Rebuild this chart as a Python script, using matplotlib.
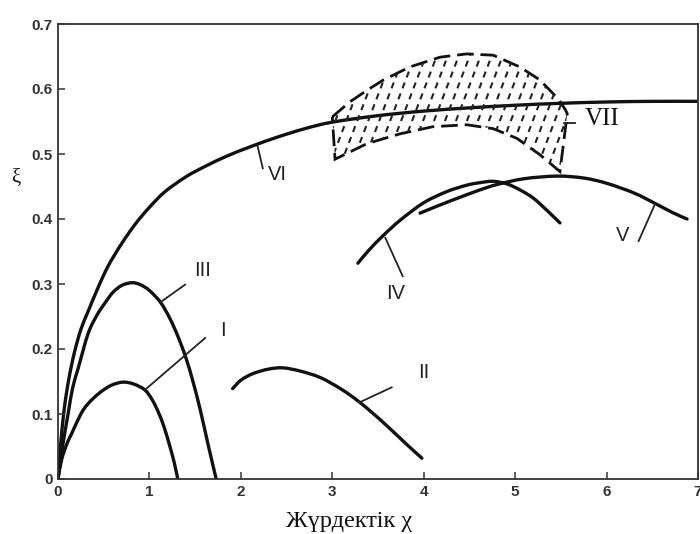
import numpy as np
import matplotlib
matplotlib.use('Agg')
from matplotlib import pyplot as plt
from matplotlib.patches import Polygon, PathPatch
from matplotlib.path import Path

plt.close('all')

#################
# curve data    #
#################
# I
x_1 = [0, 0.04, 0.10, 0.15, 0.25, 0.33, 0.45, 0.58, 0.71, 0.83, 0.95, 1.03, 1.10, 1.16, 1.22, 1.27, 1.31]
y_1 = [0, 0.030, 0.055, 0.070, 0.100, 0.116, 0.132, 0.144, 0.149, 0.146, 0.137, 0.122, 0.102, 0.080, 0.052, 0.026, 0]

# II
x_2 = [1.91, 2.00, 2.13, 2.30, 2.46, 2.65, 2.87, 3.10, 3.30, 3.55, 3.80, 3.98]
y_2 = [0.139, 0.152, 0.162, 0.169, 0.171, 0.166, 0.156, 0.138, 0.118, 0.088, 0.055, 0.032]

# III
x_3 = [0, 0.05, 0.11, 0.16, 0.22, 0.33, 0.43, 0.51, 0.60, 0.70, 0.81, 0.90, 1.00, 1.12, 1.22, 1.31, 1.40, 1.48, 1.56, 1.64, 1.73]
y_3 = [0, 0.050, 0.100, 0.140, 0.170, 0.224, 0.253, 0.270, 0.287, 0.298, 0.302, 0.299, 0.290, 0.272, 0.248, 0.220, 0.186, 0.148, 0.104, 0.054, 0]

# IV
x_4 = [3.28, 3.40, 3.56, 3.75, 4.00, 4.25, 4.47, 4.62, 4.76, 4.91, 5.05, 5.20, 5.35, 5.49]
y_4 = [0.332, 0.352, 0.375, 0.399, 0.425, 0.442, 0.452, 0.456, 0.458, 0.454, 0.445, 0.432, 0.413, 0.394]

# V
x_5 = [3.96, 4.15, 4.37, 4.60, 4.80, 5.10, 5.46, 5.75, 6.00, 6.30, 6.53, 6.72, 6.88]
y_5 = [0.409, 0.420, 0.432, 0.444, 0.453, 0.462, 0.466, 0.463, 0.455, 0.440, 0.424, 0.410, 0.400]

# VI
x_6 = [0, 0.03, 0.07, 0.12, 0.18, 0.25, 0.33, 0.44, 0.55, 0.70, 0.85, 1.00, 1.17, 1.40, 1.61, 1.85,
       2.12, 2.40, 2.70, 3.00, 3.50, 4.00, 4.50, 5.00, 5.50, 6.00, 6.50, 7.00]
y_6 = [0, 0.055, 0.110, 0.155, 0.195, 0.230, 0.258, 0.295, 0.328, 0.363, 0.393, 0.418, 0.442, 0.465, 0.481, 0.497,
       0.512, 0.526, 0.539, 0.549, 0.559, 0.566, 0.571, 0.575, 0.578, 0.580, 0.581, 0.581]

# VII region (upper edge left->right, lower edge right->left)
x_7_up = [3.00, 3.19, 3.38, 3.56, 3.85, 4.18, 4.47, 4.76, 5.05, 5.27, 5.47, 5.55, 5.57]
y_7_up = [0.557, 0.580, 0.598, 0.614, 0.634, 0.649, 0.654, 0.652, 0.634, 0.614, 0.585, 0.568, 0.562]
x_7_lo = [5.49, 5.27, 5.02, 4.76, 4.47, 4.10, 3.74, 3.38, 3.03]
y_7_lo = [0.473, 0.499, 0.524, 0.539, 0.545, 0.542, 0.531, 0.516, 0.492]

# labels: text, label position, leader line start/end
labels = ['I', 'II', 'III', 'IV', 'V', 'VI', 'VII']
label_x = [1.80, 4.00, 1.58, 3.69, 6.17, 2.40, 5.95]
label_y = [0.228, 0.164, 0.320, 0.286, 0.374, 0.469, 0.554]
lead_x0 = [0.95, 3.30, 1.12, 3.58, 6.53, 2.18, 5.53]
lead_y0 = [0.137, 0.118, 0.272, 0.371, 0.423, 0.514, 0.547]
lead_x1 = [1.61, 3.65, 1.39, 3.77, 6.35, 2.24, 5.65]
lead_y1 = [0.217, 0.141, 0.299, 0.312, 0.366, 0.478, 0.547]


def smooth_path(xs, ys):
    # Catmull-Rom through the points, drawn as cubic Bezier segments
    p = np.column_stack([xs, ys]).astype(float)
    ext = np.vstack([p[0], p, p[-1]])
    verts = [p[0]]
    codes = [Path.MOVETO]
    for i in range(1, len(ext) - 2):
        p0, p1, p2, p3 = ext[i - 1], ext[i], ext[i + 1], ext[i + 2]
        verts += [p1 + (p2 - p0) / 6.0, p2 - (p3 - p1) / 6.0, p2]
        codes += [Path.CURVE4] * 3
    return Path(verts, codes)


#################
# plot the data #
#################
fig = plt.figure(figsize=(7.0, 5.34), dpi=100)
ax = fig.add_axes([58/700, 1 - 479/534, 640/700, 455/534])

lw = 2.4
for xs, ys in [(x_1, y_1), (x_2, y_2), (x_3, y_3), (x_4, y_4), (x_5, y_5), (x_6, y_6)]:
    ax.add_patch(PathPatch(smooth_path(xs, ys), fill=False, edgecolor='#111111', lw=lw,
                           capstyle='round', joinstyle='round'))

# hatched region VII
px = x_7_up + x_7_lo
py = y_7_up + y_7_lo
region = Polygon(np.column_stack([px, py]), closed=True, fill=False,
                 edgecolor='#111111', lw=2.0, linestyle=(0, (6, 2.5)))
ax.add_patch(region)

# dashed hatching, clipped to the region
slope = 0.37
for x0 in np.arange(2.4, 6.0, 0.12):
    xx = np.array([x0, x0 + 1.0])
    yy = 0.45 + slope * (xx - x0)
    hl, = ax.plot(xx, yy, color='#222222', lw=1.5, linestyle=(0, (3.0, 2.6)))
    hl.set_clip_path(region)

# curve labels and leader lines
for i, lab in enumerate(labels):
    ax.plot([lead_x0[i], lead_x1[i]], [lead_y0[i], lead_y1[i]], color='#222222', lw=1.3)
    if lab == 'VII':
        ax.text(label_x[i], label_y[i], lab, ha='center', va='center',
                fontsize=18, family='Liberation Serif', color='#111111')
    else:
        ax.text(label_x[i], label_y[i], lab, ha='center', va='center',
                fontsize=14.5, family='Liberation Sans', color='#222222')

ax.set_xlim(0, 7)
ax.set_ylim(0, 0.7)
ax.set_xticks([0, 1, 2, 3, 4, 5, 6, 7])
ax.set_xticklabels(['0', '1', '2', '3', '4', '5', '6', '7'])
ax.set_yticks([0, 0.1, 0.2, 0.3, 0.4, 0.5, 0.6, 0.7])
ax.set_yticklabels(['0', '0.1', '0.2', '0.3', '0.4', '0.5', '0.6', '0.7'])
ax.tick_params(direction='in', length=5, width=1.1, colors='#333333',
               labelsize=11, pad=4)
for t in ax.get_xticklabels() + ax.get_yticklabels():
    t.set_fontweight('bold')
    t.set_family('Liberation Sans')
for s in ax.spines.values():
    s.set_linewidth(1.3)
    s.set_color('#333333')

fig.text(349/700, 1 - 521/534, 'Жүрдектік χ', ha='center', va='center',
         fontsize=17.5, family='Liberation Serif', color='#111111')
fig.text(16/700, 1 - 178/534, 'ξ', ha='center', va='center',
         fontsize=15, family='Liberation Serif', color='#111111')

plt.savefig('out.png', dpi=100)
